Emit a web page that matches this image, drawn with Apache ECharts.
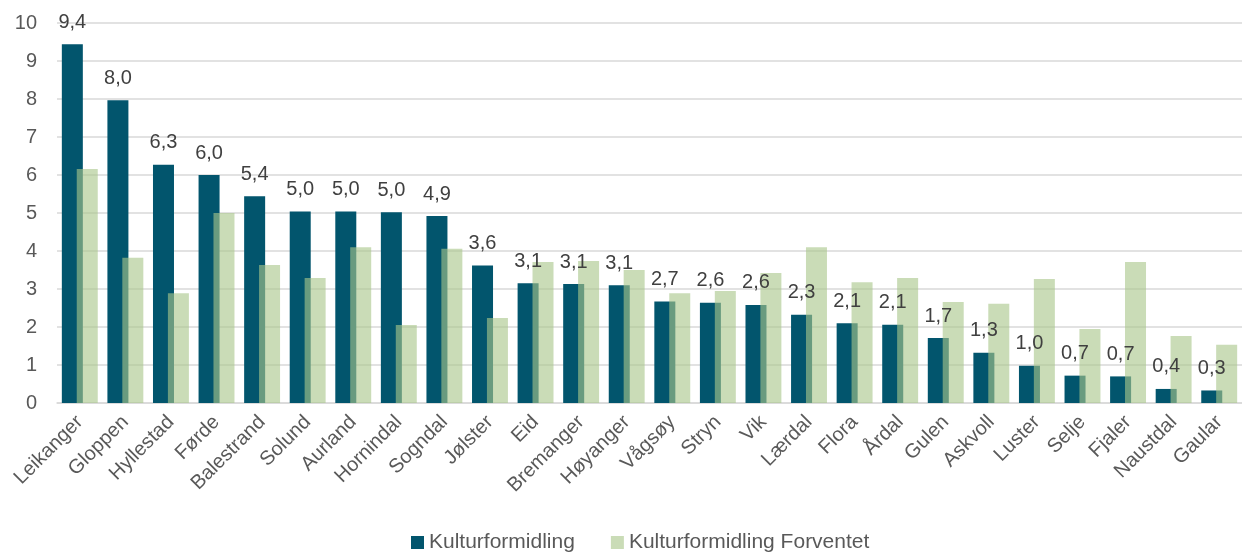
<!DOCTYPE html>
<html>
	<head>
		<meta charset="utf-8" />
		<title></title>
		<script src="https://cdn.jsdelivr.net/npm/echarts@6/dist/echarts.min.js" type="text/javascript" charset="utf-8"></script>
	</head>
	<body style="margin: 0;background: #fff;">
		<div id="chart" style="width: 1242px;height: 553px;"></div>
		<script type="text/javascript">
			var kommuner = ["Leikanger","Gloppen","Hyllestad","Førde","Balestrand","Solund","Aurland","Hornindal","Sogndal","Jølster","Eid","Bremanger","Høyanger","Vågsøy","Stryn","Vik","Lærdal","Flora","Årdal","Gulen","Askvoll","Luster","Selje","Fjaler","Naustdal","Gaular"];
			var kultur = [9.44, 7.97, 6.27, 6.0, 5.44, 5.04, 5.04, 5.02, 4.92, 3.62, 3.15, 3.13, 3.1, 2.67, 2.64, 2.58, 2.32, 2.1, 2.06, 1.71, 1.32, 0.98, 0.72, 0.7, 0.37, 0.33];
			var forventet = [6.16, 3.82, 2.89, 5.0, 3.63, 3.29, 4.1, 2.05, 4.06, 2.24, 3.71, 3.74, 3.5, 2.89, 2.95, 3.42, 4.1, 3.18, 3.29, 2.66, 2.61, 3.26, 1.95, 3.71, 1.76, 1.53];

			var chart = echarts.init(document.getElementById("chart"));
			var font = "'Liberation Sans', Arial, sans-serif";

			chart.setOption({
				animation: false,
				textStyle: {fontFamily: font},
				grid: {left: 57, top: 23, width: 1196, height: 380},
				legend: {
					bottom: -5,
					left: 406,
					itemWidth: 13,
					itemHeight: 13,
					itemGap: 36,
					icon: 'rect',
					textStyle: {fontSize: 21, color: '#595959', fontFamily: font},
					data: ['Kulturformidling', 'Kulturformidling Forventet']
				},
				xAxis: {
					type: 'category',
					data: kommuner,
					axisTick: {show: false},
					axisLine: {lineStyle: {color: '#d9d9d9', width: 1.5}},
					axisLabel: {rotate: 45, fontSize: 20, color: '#595959', margin: 16, interval: 0}
				},
				yAxis: {
					type: 'value',
					min: 0,
					max: 10,
					interval: 1,
					axisLine: {show: false},
					axisTick: {show: false},
					splitLine: {lineStyle: {color: '#d9d9d9', width: 1.5}},
					axisLabel: {fontSize: 20, color: '#595959', margin: 20}
				},
				series: [
					{
						name: 'Kulturformidling',
						type: 'bar',
						data: kultur,
						barWidth: 21,
						barGap: '-29%',
						itemStyle: {color: '#02556d'},
						label: {
							show: true,
							position: 'top',
							distance: 12,
							fontSize: 20,
							color: '#404040',
							formatter: function (p) {
								return p.value.toFixed(1).replace('.', ',');
							}
						}
					},
					{
						name: 'Kulturformidling Forventet',
						type: 'bar',
						data: forventet,
						barWidth: 21,
						itemStyle: {color: '#a9c68a', opacity: 0.62}
					}
				]
			});
		</script>
	</body>
</html>
